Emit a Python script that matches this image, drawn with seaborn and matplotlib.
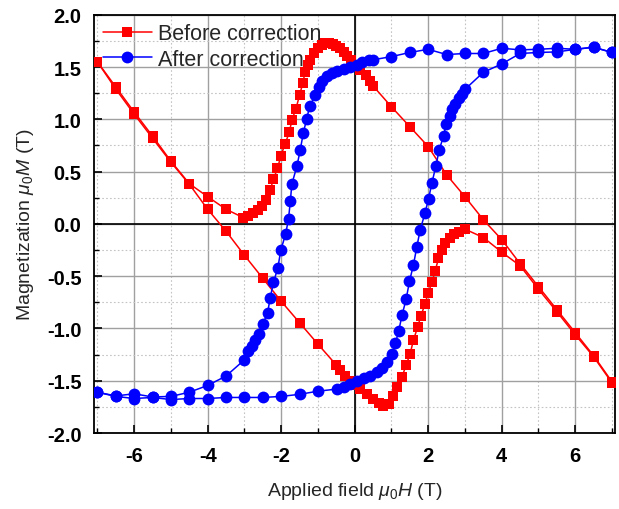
import matplotlib
matplotlib.use("Agg")
import matplotlib.pyplot as plt
import seaborn as sns
import numpy as np
import pandas as pd
from matplotlib.ticker import MultipleLocator

# ---------------- data ----------------
before_desc_h = [7.0, 6.5, 6.0, 5.5, 5.0, 4.5, 4.0, 3.5, 3.0, 2.5, 2.0, 1.5, 1.0, 0.5,
                 0.43, 0.3, 0.15, 0.0, -0.1, -0.2, -0.3, -0.4, -0.5, -0.6, -0.7, -0.8,
                 -0.9, -1.0, -1.12, -1.22, -1.28, -1.35, -1.41, -1.50, -1.60, -1.71,
                 -1.78, -1.90, -2.01, -2.10, -2.21, -2.30, -2.42, -2.52, -2.64, -2.76,
                 -2.89, -3.03, -3.5, -4.0, -4.5, -5.0, -5.5, -6.0, -6.5, -7.0]
before_desc_m = [-1.51, -1.26, -1.04, -0.82, -0.60, -0.38, -0.15, 0.04, 0.26, 0.47, 0.74,
                 0.93, 1.12, 1.32, 1.37, 1.42, 1.47, 1.52, 1.57, 1.61, 1.64, 1.68, 1.70,
                 1.72, 1.73, 1.73, 1.71, 1.68, 1.63, 1.57, 1.52, 1.45, 1.35, 1.23, 1.10,
                 0.99, 0.875, 0.76, 0.65, 0.53, 0.43, 0.32, 0.23, 0.17, 0.13, 0.10,
                 0.075, 0.06, 0.14, 0.26, 0.385, 0.60, 0.84, 1.07, 1.31, 1.55]
before_asc_h = [-7.0, -6.5, -6.0, -5.5, -5.0, -4.5, -4.0, -3.5, -3.0, -2.5, -2.0, -1.5,
                -1.0, -0.5, -0.4, -0.26, -0.12, 0.0, 0.15, 0.33, 0.5, 0.65, 0.78, 0.92,
                1.05, 1.15, 1.29, 1.40, 1.51, 1.60, 1.71, 1.80, 1.91, 2.0, 2.10, 2.19,
                2.28, 2.37, 2.46, 2.59, 2.70, 2.83, 3.0, 3.5, 4.0, 4.5, 5.0, 5.5, 6.0,
                6.5, 7.0]
before_asc_m = [1.55, 1.29, 1.05, 0.82, 0.59, 0.38, 0.14, -0.07, -0.30, -0.52, -0.74,
                -0.945, -1.15, -1.35, -1.40, -1.45, -1.50, -1.54, -1.58, -1.625, -1.67,
                -1.71, -1.74, -1.72, -1.65, -1.56, -1.46, -1.35, -1.24, -1.11, -0.99,
                -0.88, -0.77, -0.66, -0.56, -0.45, -0.33, -0.25, -0.18, -0.13, -0.10,
                -0.08, -0.05, -0.13, -0.27, -0.40, -0.625, -0.84, -1.06, -1.27, -1.52]

after_desc_h = [7.0, 6.5, 6.0, 5.5, 5.0, 4.5, 4.0, 3.5, 3.0, 2.5, 2.0, 1.5, 1.0, 0.5,
                0.38, 0.2, 0.06, -0.12, -0.3, -0.49, -0.62, -0.76, -0.89, -0.98, -1.07,
                -1.22, -1.31, -1.40, -1.48, -1.57, -1.71, -1.75, -1.80, -1.88, -2.01,
                -2.09, -2.21, -2.30, -2.37, -2.50, -2.61, -2.70, -2.79, -2.89, -3.0,
                -3.5, -4.0, -4.5, -5.0, -5.5, -6.0, -6.5, -7.0]
after_desc_m = [1.64, 1.69, 1.67, 1.68, 1.67, 1.665, 1.68, 1.63, 1.63, 1.62, 1.67, 1.64,
                1.60, 1.57, 1.565, 1.55, 1.52, 1.50, 1.48, 1.46, 1.44, 1.41, 1.37, 1.31,
                1.23, 1.13, 1.0, 0.865, 0.71, 0.555, 0.38, 0.22, 0.05, -0.10, -0.25,
                -0.42, -0.56, -0.71, -0.85, -0.96, -1.05, -1.11, -1.17, -1.22, -1.30,
                -1.455, -1.545, -1.61, -1.65, -1.655, -1.625, -1.645, -1.61]
after_asc_h = [-7.0, -6.5, -6.0, -5.5, -5.0, -4.5, -4.0, -3.5, -3.0, -2.5, -2.0, -1.5,
               -1.0, -0.49, -0.3, -0.12, 0.06, 0.24, 0.43, 0.61, 0.74, 0.88, 1.01, 1.11,
               1.20, 1.29, 1.40, 1.49, 1.60, 1.69, 1.78, 1.91, 2.01, 2.10, 2.21, 2.30,
               2.42, 2.49, 2.59, 2.65, 2.74, 2.83, 2.92, 3.01, 3.5, 4.0, 4.5, 5.0, 5.5,
               6.0, 6.5, 7.0]
after_asc_m = [-1.61, -1.65, -1.67, -1.66, -1.68, -1.67, -1.67, -1.66, -1.66, -1.66,
               -1.65, -1.63, -1.60, -1.58, -1.56, -1.53, -1.50, -1.47, -1.45, -1.42,
               -1.38, -1.32, -1.24, -1.14, -1.02, -0.87, -0.72, -0.55, -0.39, -0.22,
               -0.06, 0.10, 0.24, 0.39, 0.555, 0.71, 0.84, 0.96, 1.035, 1.10, 1.15,
               1.20, 1.24, 1.29, 1.45, 1.53, 1.63, 1.64, 1.645, 1.67, 1.69, 1.64]

series_labels = ["Before correction", "After correction"]
x_ticks = [-6, -4, -2, 0, 2, 4, 6]
y_ticks = [-2.0, -1.5, -1.0, -0.5, 0.0, 0.5, 1.0, 1.5, 2.0]

# ---------------- style ----------------
sns.set_theme(style="ticks")
plt.rcParams["font.family"] = ["Liberation Sans", "DejaVu Sans"]
plt.rcParams["mathtext.fontset"] = "custom"
plt.rcParams["mathtext.it"] = "Liberation Sans:italic"
plt.rcParams["mathtext.rm"] = "Liberation Sans"

fig = plt.figure(figsize=(6.19, 5.10), dpi=100)
ax = fig.add_axes([0.152, 0.149, 0.842, 0.820])

# grid
ax.xaxis.set_major_locator(MultipleLocator(2))
ax.xaxis.set_minor_locator(MultipleLocator(1))
ax.yaxis.set_major_locator(MultipleLocator(0.5))
ax.yaxis.set_minor_locator(MultipleLocator(0.25))
ax.grid(which="major", color="#a0a0a0", linewidth=1.0, linestyle="-")
ax.grid(which="minor", color="#c4c4c4", linewidth=0.8, linestyle=(0, (1.5, 2)))
ax.set_axisbelow(True)
ax.axhline(0, color="black", linewidth=1.2, zorder=1.5)
ax.axvline(0, color="black", linewidth=1.2, zorder=1.5)

# branches
df_b = pd.DataFrame({"H": before_desc_h + before_asc_h,
                     "M": before_desc_m + before_asc_m,
                     "branch": ["d"] * len(before_desc_h) + ["a"] * len(before_asc_h)})
df_a = pd.DataFrame({"H": after_desc_h + after_asc_h,
                     "M": after_desc_m + after_asc_m,
                     "branch": ["d"] * len(after_desc_h) + ["a"] * len(after_asc_h)})

red = "#ff0000"
blue = "#0000ff"
for i, br in enumerate(["d", "a"]):
    sub = df_b[df_b.branch == br]
    sns.lineplot(data=sub, x="H", y="M", sort=False, estimator=None, ax=ax,
                 color=red, marker="s", markersize=7.5, markeredgewidth=0,
                 linewidth=1.1, label=series_labels[0] if i == 0 else None, zorder=3)
for i, br in enumerate(["d", "a"]):
    sub = df_a[df_a.branch == br]
    sns.lineplot(data=sub, x="H", y="M", sort=False, estimator=None, ax=ax,
                 color=blue, marker="o", markersize=8.5, markeredgewidth=0,
                 linewidth=1.1, label=series_labels[1] if i == 0 else None, zorder=4)

ax.set_xlim(-7.09, 7.09)
ax.set_ylim(-2.0, 2.0)
ax.set_xticks(x_ticks)
ax.set_yticks(y_ticks)
ax.set_xticklabels([f"{v:g}" for v in x_ticks], fontweight="bold", fontsize=14.5)
ax.set_yticklabels([f"{v:.1f}" for v in y_ticks], fontweight="bold", fontsize=14.5)
ax.tick_params(which="major", direction="in", length=6, width=1.2, colors="black",
               pad=9)
ax.tick_params(which="minor", direction="in", length=3.5, width=1.0, colors="black")
for s in ax.spines.values():
    s.set_linewidth(1.3)
    s.set_color("black")

ax.set_xlabel(r"Applied field $\mu_0H$ (T)", fontsize=14, labelpad=11)
ax.set_ylabel(r"Magnetization $\mu_0M$ (T)", fontsize=14, labelpad=8)

leg = ax.legend(loc="upper left", frameon=False, fontsize=15.5, handlelength=2.3,
                handletextpad=0.25, borderaxespad=0.15, labelspacing=0.2,
                borderpad=0.25)

fig.savefig("out.png", dpi=100)
